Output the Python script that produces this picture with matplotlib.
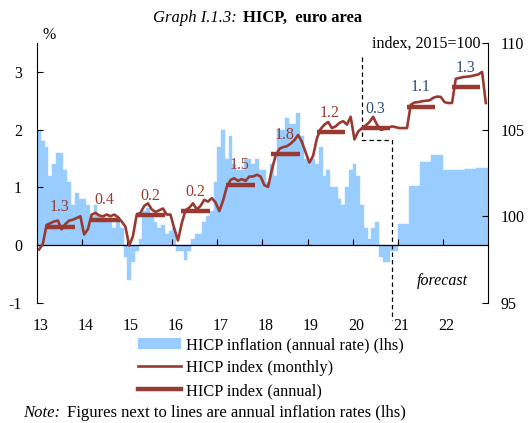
import numpy as np
import matplotlib
matplotlib.use('Agg')
import matplotlib.pyplot as plt
from matplotlib.lines import Line2D
from matplotlib.patches import Patch

plt.rcParams['font.family'] = ['Liberation Serif', 'DejaVu Serif']
plt.rcParams['axes.unicode_minus'] = False

# 年ごとのデータ (Jan..Dec)
years = [2013, 2014, 2015, 2016, 2017, 2018, 2019, 2020, 2021, 2022]
year_labels = ['13', '14', '15', '16', '17', '18', '19', '20', '21', '22']

# HICP inflation, annual rate (%)
infl_2013 = [2.0, 1.8, 1.7, 1.2, 1.4, 1.6, 1.6, 1.3, 1.1, 0.7, 0.9, 0.8]
infl_2014 = [0.8, 0.7, 0.5, 0.7, 0.5, 0.5, 0.4, 0.4, 0.3, 0.4, 0.3, -0.2]
infl_2015 = [-0.6, -0.3, -0.1, 0.1, 0.6, 0.65, 0.5, 0.4, 0.3, 0.35, 0.2, 0.25]
infl_2016 = [0.3, -0.1, -0.1, -0.25, -0.1, 0.1, 0.2, 0.2, 0.4, 0.5, 0.6, 1.1]
infl_2017 = [1.7, 2.0, 1.5, 1.9, 1.4, 1.3, 1.3, 1.5, 1.5, 1.4, 1.5, 1.3]
infl_2018 = [1.3, 1.1, 1.4, 1.2, 2.0, 2.0, 2.2, 2.1, 2.1, 2.3, 1.9, 1.5]
infl_2019 = [1.4, 1.5, 1.4, 1.7, 1.2, 1.3, 1.0, 1.0, 0.8, 0.7, 1.0, 1.3]
infl_2020 = [1.4, 1.2, 0.7, 0.3, 0.1, 0.3, 0.4, -0.2, -0.3, -0.3, -0.1, -0.1]
infl_2021 = [0.37, 0.37, 0.37, 1.02, 1.02, 1.02, 1.44, 1.44, 1.44, 1.57, 1.57, 1.57]
infl_2022 = [1.3, 1.3, 1.3, 1.31, 1.31, 1.31, 1.32, 1.32, 1.32, 1.33, 1.33, 1.33]

# HICP index (monthly), 2015=100
idx_2013 = [98.08, 98.4, 99.5, 99.6, 99.7, 99.75, 99.25, 99.55, 99.75, 99.8, 99.9, 100.0]
idx_2014 = [98.95, 99.25, 100.1, 100.2, 100.05, 100.0, 100.1, 100.0, 100.1, 99.95, 99.7, 99.4]
idx_2015 = [98.3, 98.85, 100.1, 100.2, 100.6, 100.75, 100.4, 100.25, 100.35, 100.45, 100.1, 100.1]
idx_2016 = [99.3, 98.6, 99.6, 100.35, 100.5, 100.75, 100.4, 100.6, 100.95, 100.85, 101.05, 100.8]
idx_2017 = [100.3, 100.9, 101.7, 102.1, 102.2, 102.05, 102.15, 102.05, 102.3, 102.3, 102.4, 102.3]
idx_2018 = [101.8, 101.7, 102.7, 103.5, 103.9, 104.0, 104.05, 104.2, 104.4, 104.7, 104.3, 103.7]
idx_2019 = [103.1, 103.5, 104.5, 105.05, 105.3, 105.45, 105.1, 105.2, 105.4, 105.5, 105.3, 105.75]
idx_2020 = [104.45, 104.9, 105.1, 105.25, 105.45, 105.75, 105.3, 105.0, 105.05, 105.1, 105.2, 105.15]
idx_2021 = [105.1, 105.1, 105.1, 106.45, 106.58, 106.6, 106.65, 106.68, 106.7, 106.85, 106.92, 106.9]
idx_2022 = [106.6, 106.55, 106.55, 107.95, 108.0, 108.05, 108.07, 108.1, 108.15, 108.2, 108.35, 106.55]

# HICP index (annual) と年率
annual_index = [99.4, 99.8, 100.06, 100.3, 101.83, 103.6, 104.85, 105.08, 106.34, 107.46]
annual_rate = ['1.3', '0.4', '0.2', '0.2', '1.5', '1.8', '1.2', '0.3', '1.1', '1.3']
first_forecast_year = 2020

inflation = (infl_2013 + infl_2014 + infl_2015 + infl_2016 + infl_2017
             + infl_2018 + infl_2019 + infl_2020 + infl_2021 + infl_2022)
index_m = (idx_2013 + idx_2014 + idx_2015 + idx_2016 + idx_2017
           + idx_2018 + idx_2019 + idx_2020 + idx_2021 + idx_2022)

BLUE = '#99ccff'
RED = '#983a32'
TXT_BLUE = '#2f4d7c'

months = years[0] + (np.arange(len(inflation)) + 0.5) / 12
yrs = np.array(years, dtype=float)

fig = plt.figure(figsize=(5.3, 4.23), dpi=100)
ax = fig.add_axes([0.0702, 0.2842, 0.8500, 0.6134])
ax2 = ax.twinx()

# 棒グラフ (lhs)
ax.bar(months, inflation, width=1/12, color=BLUE, linewidth=0.3, edgecolor=BLUE)
ax.set_xlim(years[0], years[-1] + 1)
ax.set_ylim(-1, 3.5)
ax.set_yticks([-1, 0, 1, 2, 3])
ax.tick_params(axis='y', direction='in', length=4, pad=11, labelsize=11.5)

# X軸: 0の線に目盛り、ラベルは下
ax.spines['bottom'].set_position(('data', 0))
ax.spines['bottom'].set_linewidth(0.9)
ax.spines['top'].set_visible(False)
ax.spines['right'].set_visible(False)
ax.set_xticks(years[1:])
ax.tick_params(axis='x', direction='in', length=4, labelbottom=False)

sec = ax.secondary_xaxis('bottom')
sec.set_xticks(yrs + 0.08, labels=year_labels)
sec.tick_params(length=0, pad=11, labelsize=11.5)
sec.spines['bottom'].set_visible(False)

# 指数 (rhs)
ax2.plot(months, index_m, color=RED, lw=1.9)
ax2.hlines(annual_index, yrs + 0.2, yrs + 0.84, color=RED, lw=3.2)
ax2.set_ylim(95, 110)
ax2.set_yticks([95, 100, 105, 110])
ax2.tick_params(axis='y', direction='in', length=4, pad=9, labelsize=11.5)
for s in ['top', 'bottom', 'left']:
    ax2.spines[s].set_visible(False)

# 年率ラベル
for yr, val, lab in zip(years, annual_index, annual_rate):
    c = TXT_BLUE if yr >= first_forecast_year else RED
    ax2.annotate(lab, (yr + 0.5, val), xytext=(0, 14), textcoords='offset points',
                 ha='center', va='center', color=c, fontsize=11.5)

# 予測の区切り
fc_start = 2020 + 10.5 / 12
ax.plot([2020.2, 2020.2, fc_start, fc_start], [3.27, 1.82, 1.82, -1.3],
        color='black', lw=0.9, ls=(0, (3.5, 2.5)), clip_on=False)
ax.text(2022.0, -0.62, 'forecast', style='italic', ha='center', va='center', fontsize=11.5)

ax.text(0.026, 1.0, '%', transform=ax.transAxes, ha='center', va='bottom', fontsize=11.5)
ax.text(0.985, 1.0, 'index, 2015=100', transform=ax.transAxes, ha='right', va='center',
        fontsize=11.5)

# タイトル
fig.text(0.447, 0.957, 'Graph I.1.3:', style='italic', ha='right', va='center', fontsize=12)
fig.text(0.4585, 0.957, 'HICP,  euro area', weight='bold', ha='left', va='center', fontsize=12)

# 凡例
handles = [Patch(facecolor=BLUE, edgecolor='none'),
           Line2D([], [], color=RED, lw=1.9),
           Line2D([], [], color=RED, lw=3.2)]
labels = ['HICP inflation (annual rate) (lhs)', 'HICP index (monthly)', 'HICP index (annual)']
fig.legend(handles, labels, loc='upper left', bbox_to_anchor=(138 / 530, 1 - 337 / 423),
           frameon=False, borderpad=0, borderaxespad=0, handlelength=2.6,
           handletextpad=0.3, labelspacing=0.43, fontsize=11.8)

# 注記
fig.text(0.0434, 0.0236, 'Note:', style='italic', ha='left', va='center', fontsize=12)
fig.text(0.1255, 0.0236, 'Figures next to lines are annual inflation rates (lhs)',
         ha='left', va='center', fontsize=12)

fig.savefig('out.png', dpi=100)
